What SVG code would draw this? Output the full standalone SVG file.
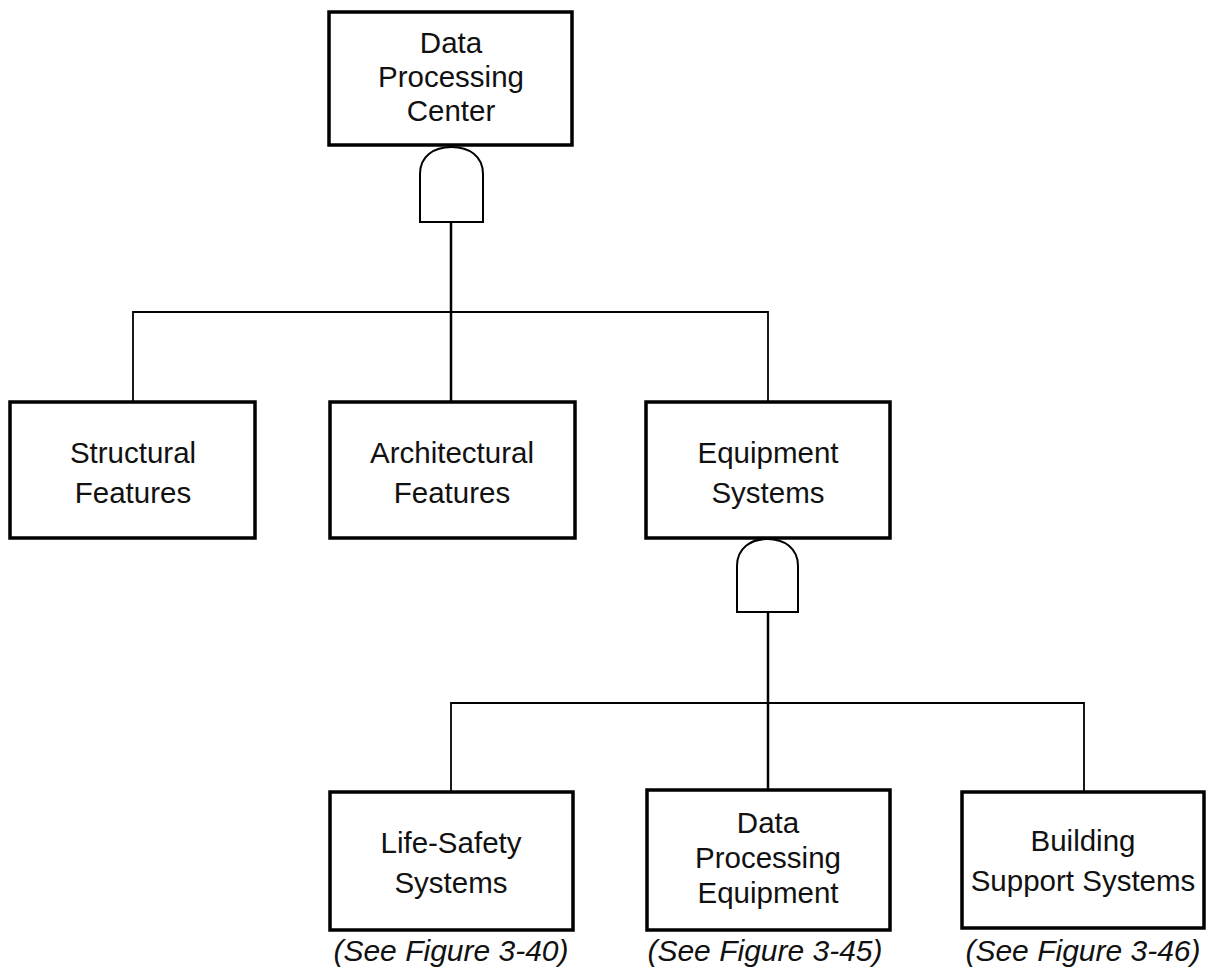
<svg xmlns="http://www.w3.org/2000/svg" width="1212" height="974" viewBox="0 0 1212 974">
<style>
.box{fill:#fff;stroke:#000;stroke-width:3.5}
.gate{fill:#fff;stroke:#000;stroke-width:2}
.conn{fill:none;stroke:#000;stroke-width:1.8}
.stem{fill:none;stroke:#000;stroke-width:2.5}
text{font-family:"Liberation Sans",Arial,sans-serif;font-size:29.5px;fill:#111;text-anchor:middle}
.cap{font-style:italic;font-size:30px}
</style>
<rect width="1212" height="974" fill="#fff"/>
<g id="connectors">
<path class="stem" d="M451,222 V402"/>
<path class="conn" d="M133,402 V312 H768 V402"/>
<path class="stem" d="M768,612 V790"/>
<path class="conn" d="M451,792 V703 H1084 V792"/>
</g>
<g id="n-dpc">
<rect class="box" x="329" y="12" width="243" height="133"/>
<text x="451" y="53">Data</text>
<text x="451" y="87">Processing</text>
<text x="451" y="121">Center</text>
</g>
<g id="gate1">
<path class="gate" d="M420,222 V174 C420,156 434,147 451.5,147 C469,147 483,156 483,174 V222 Z"/>
</g>
<g id="n-structural">
<rect class="box" x="10" y="402" width="245" height="136"/>
<text x="133" y="463">Structural</text>
<text x="133" y="503">Features</text>
</g>
<g id="n-architectural">
<rect class="box" x="330" y="402" width="245" height="136"/>
<text x="452" y="463">Architectural</text>
<text x="452" y="503">Features</text>
</g>
<g id="n-equipment">
<rect class="box" x="646" y="402" width="244" height="136"/>
<text x="768" y="463">Equipment</text>
<text x="768" y="503">Systems</text>
</g>
<g id="gate2">
<path class="gate" d="M737,612 V566 C737,548 751,539 767.5,539 C784,539 798,548 798,566 V612 Z"/>
</g>
<g id="n-lifesafety">
<rect class="box" x="330" y="792" width="243" height="138"/>
<text x="451" y="853">Life-Safety</text>
<text x="451" y="893">Systems</text>
<text class="cap" x="451" y="961">(See Figure 3-40)</text>
</g>
<g id="n-dpe">
<rect class="box" x="647" y="790" width="243" height="140"/>
<text x="768" y="833">Data</text>
<text x="768" y="868">Processing</text>
<text x="768" y="903">Equipment</text>
<text class="cap" x="765" y="961">(See Figure 3-45)</text>
</g>
<g id="n-building">
<rect class="box" x="962" y="792" width="242" height="136"/>
<text x="1083" y="851">Building</text>
<text x="1083" y="891">Support Systems</text>
<text class="cap" x="1083" y="961">(See Figure 3-46)</text>
</g>
</svg>
